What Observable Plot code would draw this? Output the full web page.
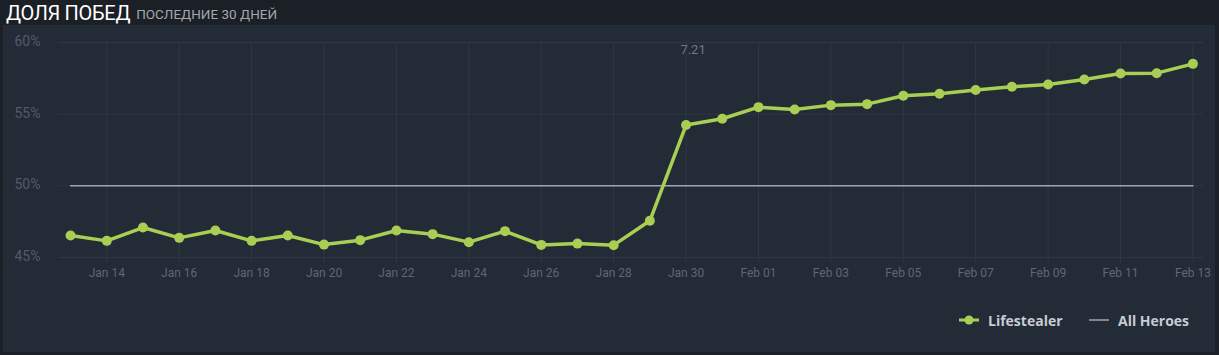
<!DOCTYPE html>
<html>
<head>
<meta charset="utf-8">
<script src="https://cdn.jsdelivr.net/npm/d3@7"></script>
<script src="https://cdn.jsdelivr.net/npm/@observablehq/plot@0.6"></script>
<style>
  html, body { margin: 0; padding: 0; background: #1b1f26; width: 1219px; height: 355px; overflow: hidden; font-family: Roboto, "Open Sans", sans-serif; }
  #header { position: absolute; left: 6px; top: 0; height: 25px; white-space: nowrap; }
  #title { color: #ffffff; font-size: 20px; letter-spacing: -0.3px; position: relative; top: 1px; }
  #subtitle { color: #a3a7ae; font-size: 13.5px; margin-left: 2px; }
  #panel { position: absolute; left: 3px; top: 25px; width: 1212px; height: 327px; background: #232b36; }
  #chart { position: absolute; left: 0; top: 0; }
  #legend { position: absolute; top: 285px; left: 0; width: 1212px; height: 20px; font-family: "Open Sans", sans-serif; font-weight: 700; font-size: 14px; color: #c8ccd5; }
  .lg { position: absolute; top: 0; display: flex; align-items: center; height: 20px; }
  .lg svg { margin-right: 8px; }
</style>
</head>
<body>
<div id="header"><span id="title">ДОЛЯ ПОБЕД</span> <span id="subtitle">ПОСЛЕДНИЕ 30 ДНЕЙ</span></div>
<div id="panel">
  <div id="chart"></div>
  <div id="legend"></div>
</div>
<script>
// ---- data ----
const dates = [
  "2019-01-13","2019-01-14","2019-01-15","2019-01-16","2019-01-17","2019-01-18","2019-01-19","2019-01-20",
  "2019-01-21","2019-01-22","2019-01-23","2019-01-24","2019-01-25","2019-01-26","2019-01-27","2019-01-28",
  "2019-01-29","2019-01-30","2019-01-31","2019-02-01","2019-02-02","2019-02-03","2019-02-04","2019-02-05",
  "2019-02-06","2019-02-07","2019-02-08","2019-02-09","2019-02-10","2019-02-11","2019-02-12","2019-02-13"
];
const lifestealer = [
  46.53, 46.16, 47.09, 46.37, 46.88, 46.16, 46.53, 45.90,
  46.21, 46.88, 46.63, 46.07, 46.84, 45.88, 45.97, 45.86,
  47.56, 54.24, 54.68, 55.49, 55.32, 55.63, 55.70, 56.28,
  56.42, 56.68, 56.91, 57.07, 57.42, 57.84, 57.86, 58.51
];
const allHeroes = [
  50, 50, 50, 50, 50, 50, 50, 50,
  50, 50, 50, 50, 50, 50, 50, 50,
  50, 50, 50, 50, 50, 50, 50, 50,
  50, 50, 50, 50, 50, 50, 50, 50
];
const xTickDates = [
  "2019-01-14","2019-01-16","2019-01-18","2019-01-20","2019-01-22","2019-01-24","2019-01-26","2019-01-28",
  "2019-01-30","2019-02-01","2019-02-03","2019-02-05","2019-02-07","2019-02-09","2019-02-11","2019-02-13"
];
const yTicks = [45, 50, 55, 60];
const patches = [{date: "2019-01-30", label: "7.21"}];
const seriesNames = ["Lifestealer", "All Heroes"];

// ---- build ----
const parse = d3.utcParse("%Y-%m-%d");
const rows = dates.map((d, i) => ({date: parse(d), hero: lifestealer[i], all: allHeroes[i]}));
const ticks = xTickDates.map(parse);
const patchRows = patches.map(p => ({date: parse(p.date), label: p.label}));

const green = "#a8cf53";
const grey = "#a2a6ad";
const gridColor = "#2f3844";

const xDomain = [d3.utcHour.offset(rows[0].date, -8), d3.utcHour.offset(rows[rows.length - 1].date, 7)];

const chart = Plot.plot({
  width: 1212,
  height: 270,
  marginLeft: 55,
  marginRight: 12,
  marginTop: 17,
  marginBottom: 38,
  style: {background: "transparent", fontFamily: "Roboto, sans-serif"},
  x: {type: "utc", domain: xDomain},
  y: {domain: [45, 60]},
  marks: [
    Plot.gridY(yTicks, {stroke: gridColor, strokeOpacity: 1, strokeWidth: 1}),
    Plot.gridX(ticks, {stroke: gridColor, strokeOpacity: 1, strokeWidth: 1}),
    Plot.axisX(ticks, {tickSize: 6, tickPadding: 5, stroke: gridColor, fill: "#5f6773", fontSize: 12, tickFormat: d3.utcFormat("%b %d")}),
    Plot.axisY(yTicks, {tickSize: 0, tickPadding: 3, textAnchor: "start", dx: -41, dy: -1, fill: "#535b67", fontSize: 14, tickFormat: d => d + "%"}),
    Plot.lineY(rows, {x: "date", y: "all", stroke: grey, strokeWidth: 1.5}),
    Plot.lineY(rows, {x: "date", y: "hero", stroke: green, strokeWidth: 3.5}),
    Plot.dot(rows, {x: "date", y: "hero", r: 5, fill: green}),
    Plot.text(patchRows, {x: "date", text: "label", frameAnchor: "top", dy: 2, dx: 7, fill: "#6f7783", fontSize: 13})
  ]
});
document.getElementById("chart").appendChild(chart);

// ---- legend ----
const legend = document.getElementById("legend");
const items = [
  {name: seriesNames[0], left: 955, sym: `<svg width="22" height="12"><line x1="1" y1="6" x2="21" y2="6" stroke="${green}" stroke-width="3"/><circle cx="11" cy="6" r="4.5" fill="${green}"/></svg>`},
  {name: seriesNames[1], left: 1085, sym: `<svg width="22" height="12"><line x1="1" y1="6" x2="21" y2="6" stroke="${grey}" stroke-width="1.5"/></svg>`}
];
for (const it of items) {
  const el = document.createElement("div");
  el.className = "lg";
  el.style.left = it.left + "px";
  el.innerHTML = it.sym + "<span>" + it.name + "</span>";
  legend.appendChild(el);
}
</script>
</body>
</html>
